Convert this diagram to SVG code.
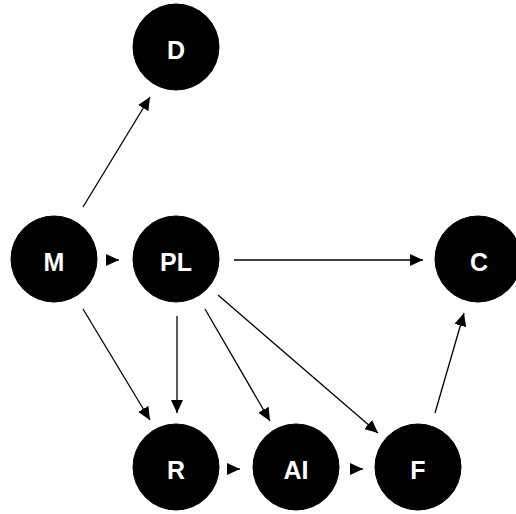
<svg xmlns="http://www.w3.org/2000/svg" width="516" height="514" viewBox="0 0 516 514">
<style>
.node circle{fill:#000;stroke:#000;stroke-width:1}
.node text{fill:#fff;font-family:"Liberation Sans",Arial,sans-serif;font-weight:bold;font-size:25px;text-anchor:middle}
.edges line{stroke:#000;stroke-width:1.3;fill:none}
</style>
<defs>
<marker id="ah" markerWidth="13" markerHeight="12" refX="13" refY="6" orient="auto" markerUnits="userSpaceOnUse">
<path d="M0,0 L13,6 L0,12 Z" fill="#000"/>
</marker>
</defs>
<rect width="516" height="514" fill="#fff"/>
<g class="edges">
<line x1="83" y1="207" x2="150" y2="97" marker-end="url(#ah)"/>
<line x1="107" y1="260" x2="119" y2="260" marker-end="url(#ah)"/>
<line x1="83" y1="309" x2="150" y2="420" marker-end="url(#ah)"/>
<line x1="177" y1="316" x2="177" y2="413" marker-end="url(#ah)"/>
<line x1="205" y1="309" x2="270" y2="421" marker-end="url(#ah)"/>
<line x1="218" y1="295" x2="378" y2="433" marker-end="url(#ah)"/>
<line x1="234" y1="260" x2="423" y2="260" marker-end="url(#ah)"/>
<line x1="435" y1="413" x2="464" y2="313" marker-end="url(#ah)"/>
<line x1="227" y1="469" x2="240" y2="469" marker-end="url(#ah)"/>
<line x1="350" y1="469" x2="363" y2="469" marker-end="url(#ah)"/>
</g>
<g id="D" class="node"><circle cx="176" cy="47" r="43"/><text x="176" y="59">D</text></g>
<g id="M" class="node"><circle cx="54" cy="259" r="43"/><text x="54" y="271">M</text></g>
<g id="PL" class="node"><circle cx="176" cy="259" r="43"/><text x="176" y="271">PL</text></g>
<g id="C" class="node"><circle cx="478" cy="259" r="43"/><text x="479" y="271">C</text></g>
<g id="R" class="node"><circle cx="176" cy="467" r="43"/><text x="176" y="479">R</text></g>
<g id="AI" class="node"><circle cx="296" cy="467" r="43"/><text x="296" y="479">AI</text></g>
<g id="F" class="node"><circle cx="418" cy="467" r="43"/><text x="418" y="479">F</text></g>
</svg>
